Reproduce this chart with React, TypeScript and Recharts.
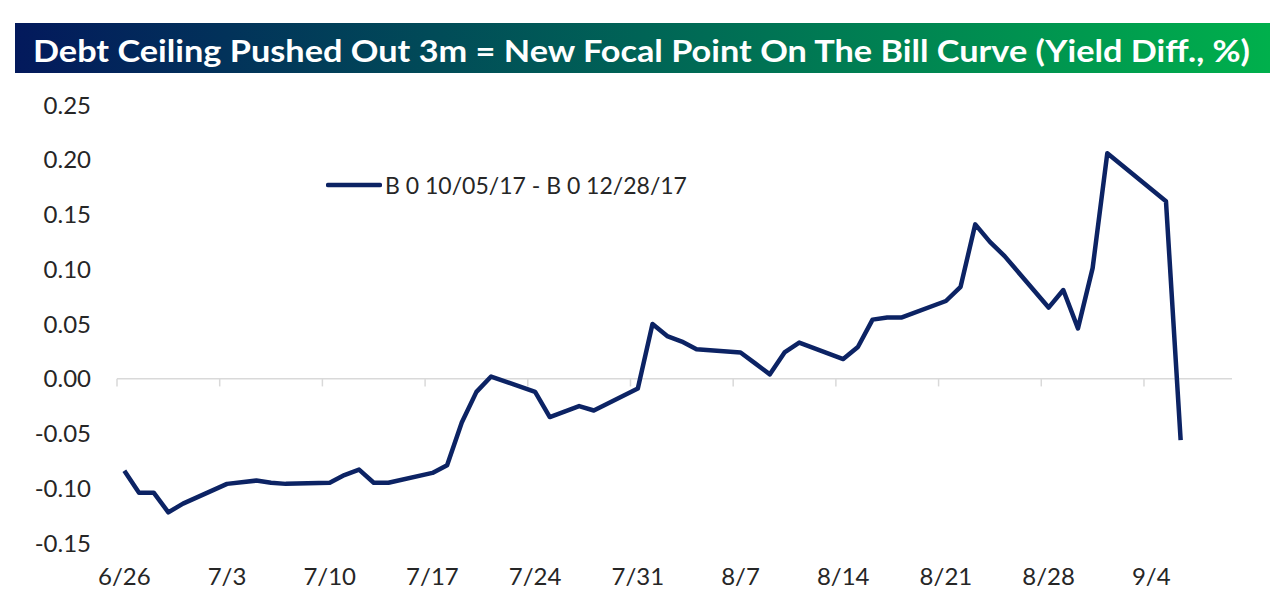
import React from "react";
import {
  LineChart,
  Line,
  XAxis,
  YAxis,
  ReferenceLine,
  Legend,
} from "recharts";

const SERIES_NAME = "B 0 10/05/17 - B 0 12/28/17";
const LINE_COLOR = "#0c2364";
const TEXT_COLOR = "#262626";
const FONT = "Lato, 'Open Sans', sans-serif";

// trading days (2017)
const dates = [
  "6/26", "6/27", "6/28", "6/29", "6/30",
  "7/3", "7/5", "7/6", "7/7",
  "7/10", "7/11", "7/12", "7/13", "7/14",
  "7/17", "7/18", "7/19", "7/20", "7/21",
  "7/24", "7/25", "7/26", "7/27", "7/28",
  "7/31", "8/1", "8/2", "8/3", "8/4",
  "8/7", "8/8", "8/9", "8/10", "8/11",
  "8/14", "8/15", "8/16", "8/17", "8/18",
  "8/21", "8/22", "8/23", "8/24", "8/25",
  "8/28", "8/29", "8/30", "8/31", "9/1",
  "9/5", "9/6",
];

const yieldDiff = [
  -0.084, -0.104, -0.104, -0.122, -0.114,
  -0.096, -0.093, -0.095, -0.096,
  -0.095, -0.088, -0.083, -0.095, -0.095,
  -0.086, -0.079, -0.04, -0.012, 0.002,
  -0.012, -0.035, -0.03, -0.025, -0.029,
  -0.009, 0.05, 0.039, 0.034, 0.027,
  0.024, 0.014, 0.004, 0.024, 0.033,
  0.018, 0.029, 0.054, 0.056, 0.056,
  0.071, 0.084, 0.141, 0.125, 0.112,
  0.065, 0.081, 0.046, 0.101, 0.206,
  0.162, -0.056,
];

const xTickLabels = ["6/26", "7/3", "7/10", "7/17", "7/24", "7/31", "8/7", "8/14", "8/21", "8/28", "9/4"];
const yTicks = [-0.15, -0.1, -0.05, 0, 0.05, 0.1, 0.15, 0.2, 0.25];
const axisStart = "6/26";
const axisEnd = "9/9";

const dayOffset = (md: string) => {
  const [m, d] = md.split("/").map(Number);
  const [m0, d0] = axisStart.split("/").map(Number);
  return Math.round((Date.UTC(2017, m - 1, d) - Date.UTC(2017, m0 - 1, d0)) / 86400000);
};

const data = dates.map((d, i) => ({ day: dayOffset(d), v: yieldDiff[i] }));
const xTicks = xTickLabels.map(dayOffset);
const labelByDay: Record<number, string> = {};
xTickLabels.forEach((l) => (labelByDay[dayOffset(l)] = l));

const renderLegend = (props: any) => {
  const item = props.payload && props.payload[0];
  if (!item) return null;
  return (
    <div style={{ display: "flex", alignItems: "center", fontFamily: FONT, fontSize: 23, color: TEXT_COLOR, whiteSpace: "nowrap" }}>
      <svg width={56} height={10} style={{ marginRight: 3 }}>
        <line x1={2} y1={5} x2={54} y2={5} stroke={item.color} strokeWidth={4.5} strokeLinecap="round" />
      </svg>
      <span>{item.value}</span>
    </div>
  );
};

export default function App() {
  return (
    <div style={{ position: "fixed", left: 0, top: 0, width: 1280, height: 606, background: "#fff" }}>
      <svg width={1280} height={80} style={{ position: "absolute", left: 0, top: 0 }}>
        <defs>
          <linearGradient id="titleGrad" x1="0" y1="0" x2="1" y2="0">
            <stop offset="0%" stopColor="#03195c" />
            <stop offset="50%" stopColor="#006456" />
            <stop offset="100%" stopColor="#00b04c" />
          </linearGradient>
        </defs>
        <rect x={15} y={23} width={1255} height={50} fill="url(#titleGrad)" />
        <text
          x={33}
          y={62}
          fill="#fff"
          fontFamily={FONT}
          fontWeight={700}
          fontSize={31}
          textLength={1217}
          lengthAdjust="spacingAndGlyphs"
        >
          Debt Ceiling Pushed Out 3m = New Focal Point On The Bill Curve (Yield Diff., %)
        </text>
      </svg>
      <LineChart
        width={1280}
        height={606}
        data={data}
        margin={{ top: 105, right: 48, bottom: 33, left: 0 }}
        style={{ position: "absolute", left: 0, top: 0 }}
      >
        <XAxis
          dataKey="day"
          type="number"
          domain={[-0.5, dayOffset(axisEnd) + 0.5]}
          ticks={xTicks}
          tickFormatter={(v: number) => labelByDay[v] || ""}
          axisLine={false}
          tickLine={false}
          tickSize={0}
          tickMargin={25}
          height={30}
          interval={0}
          allowDataOverflow
          tick={{ fontFamily: FONT, fontSize: 24, fill: TEXT_COLOR }}
        />
        <YAxis
          type="number"
          domain={[-0.15, 0.25]}
          ticks={yTicks}
          tickFormatter={(v: number) => v.toFixed(2)}
          axisLine={false}
          tickLine={false}
          tickSize={0}
          tickMargin={26}
          width={117}
          interval={0}
          allowDataOverflow
          tick={{ fontFamily: FONT, fontSize: 24, fill: TEXT_COLOR }}
        />
        <ReferenceLine y={0} stroke="#d9d9d9" strokeWidth={1.5} />
        {xTicks.map((t) => (
          <ReferenceLine
            key={t}
            segment={[{ x: t - 0.5, y: 0 }, { x: t - 0.5, y: -0.007 }]}
            stroke="#d9d9d9"
            strokeWidth={1.5}
          />
        ))}
        <Legend
          layout="vertical"
          align="center"
          verticalAlign="middle"
          content={renderLegend}
          wrapperStyle={{ left: 326, top: 171, width: "auto", height: "auto" }}
        />
        <Line
          type="linear"
          dataKey="v"
          name={SERIES_NAME}
          stroke={LINE_COLOR}
          strokeWidth={4.5}
          strokeLinejoin="round"
          dot={false}
          activeDot={false}
          isAnimationActive={false}
        />
      </LineChart>
    </div>
  );
}
